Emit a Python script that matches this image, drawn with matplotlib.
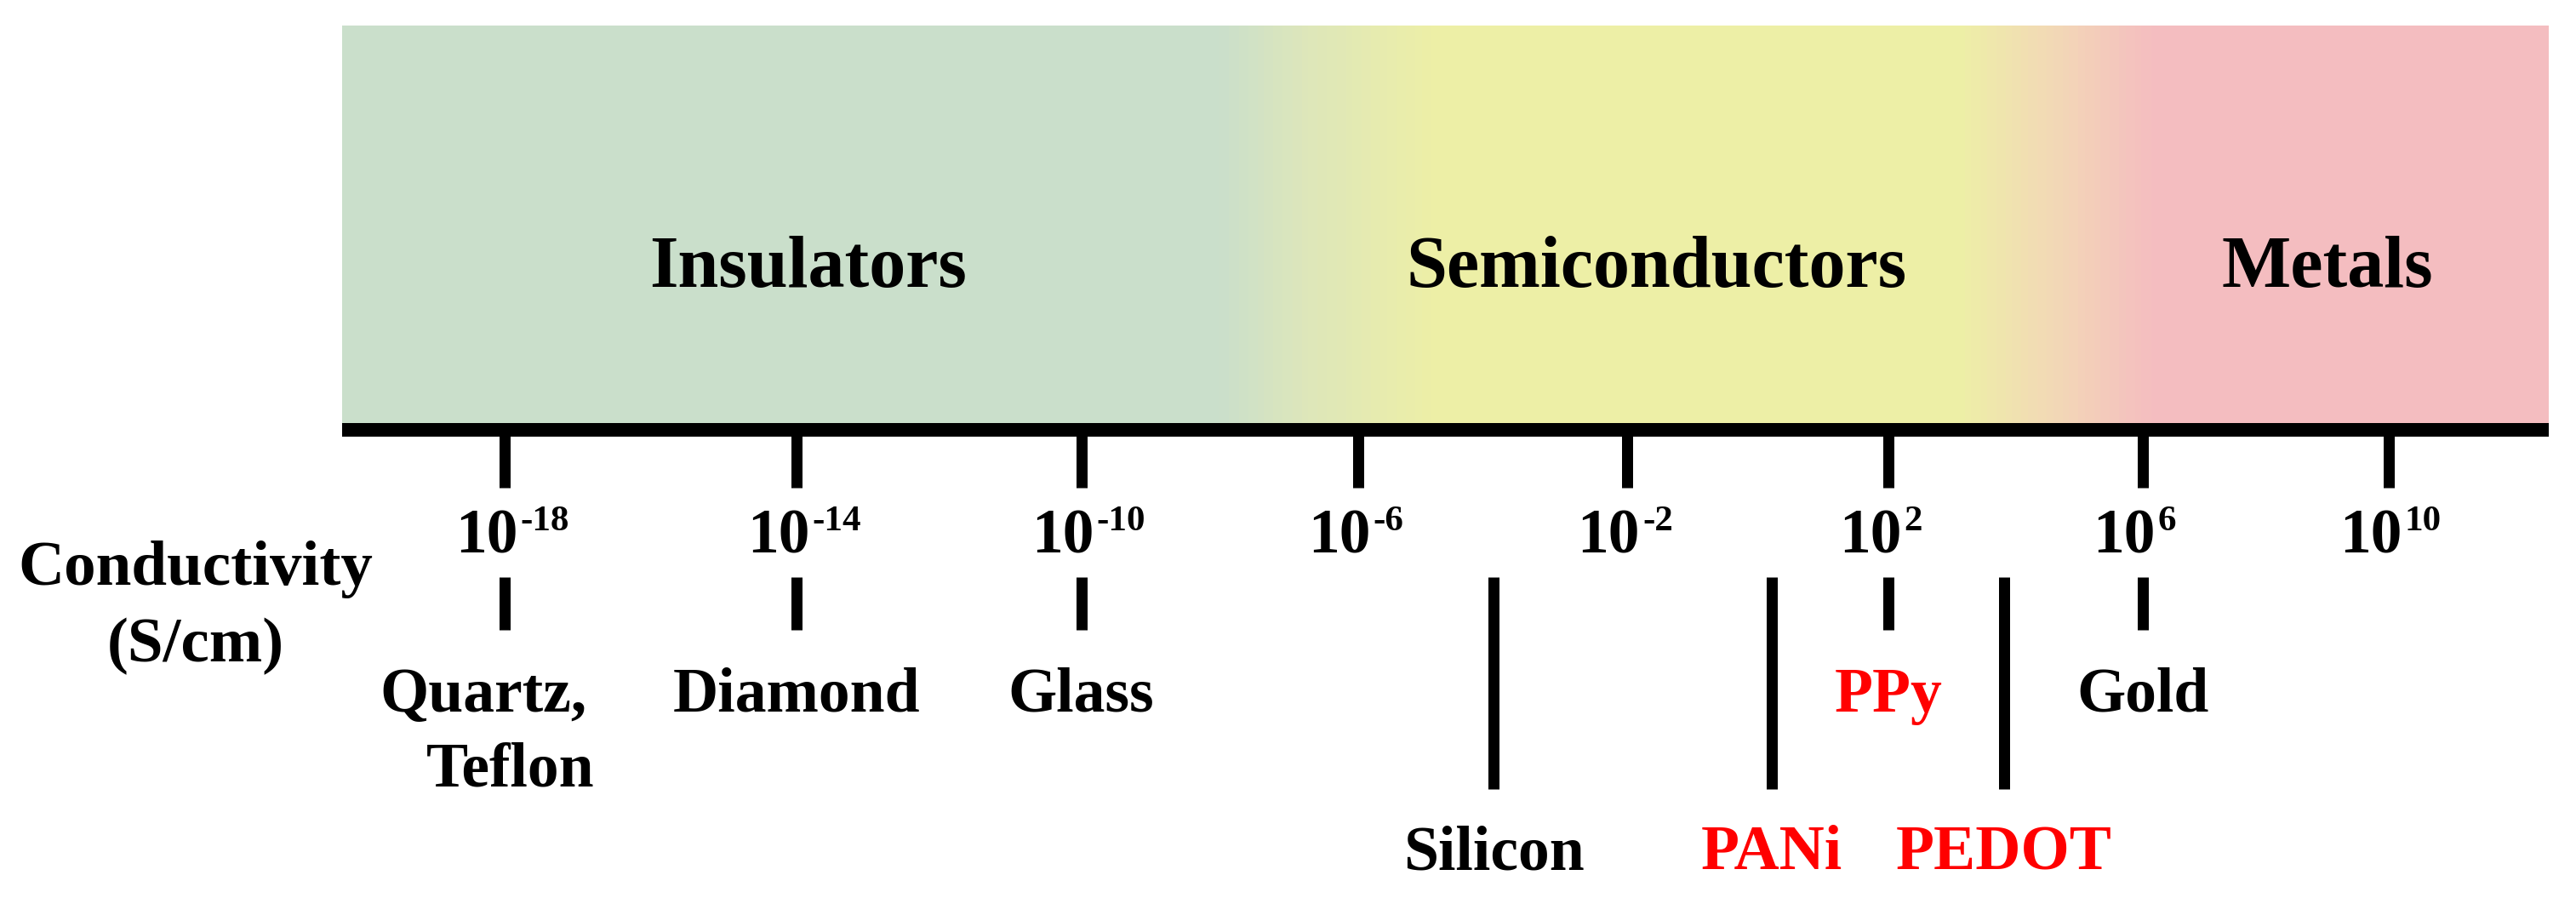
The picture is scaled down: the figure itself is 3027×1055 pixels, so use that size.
import numpy as np
import matplotlib.pyplot as plt
from matplotlib.colors import LinearSegmentedColormap

plt.rcParams['font.family'] = ['Liberation Serif', 'DejaVu Serif']
plt.rcParams['font.weight'] = 'bold'

# conductivity scale, log10 of S/cm
decades = [-18, -14, -10, -6, -2, 2, 6, 10]

materials = ['Quartz,\nTeflon', 'Diamond', 'Glass', 'Silicon', 'PANi', 'PPy', 'PEDOT', 'Gold']
log_sigma = [-18, -14, -10, -4, 0.2, 2, 3.8, 6]
polymers = ['PANi', 'PPy', 'PEDOT']

regions = ['Insulators', 'Semiconductors', 'Metals']

W, H = 3027, 1055

# the hand drawn scale gets slightly tighter towards the right
A, B, C = 1755.1, 79.07, 0.28


def fwd(e):
    u = np.asarray(e, dtype=float) + 4
    return B * u - C * u ** 2


def inv(y):
    y = np.asarray(y, dtype=float)
    return (B - np.sqrt(np.maximum(B ** 2 - 4 * C * y, 0))) / (2 * C) - 4


def at(x_px):
    # figure pixel column -> log10 value on this axis
    return float(inv(x_px - A))


fig = plt.figure(figsize=(W / 100, H / 100), dpi=100)
ax = fig.add_axes([0, 0, 1, 1])
ax.set_xscale('function', functions=(fwd, inv))
ax.set_xlim(at(0), at(W))
ax.set_ylim(H, 0)   # y in pixels from the top
ax.axis('off')

px = 72 / 100  # pixels -> points

# coloured band behind the scale
lo, hi = at(402), at(2995)
stops = [(402, '#cadfcb'), (1433, '#cadfcb'), (1533, '#dde6ba'), (1686, '#edefa6'),
         (2303, '#edefa6'), (2407, '#f2dab5'), (2533, '#f4bdc0'), (2995, '#f4bdc0')]
cmap = LinearSegmentedColormap.from_list(
    'band', [((at(p) - lo) / (hi - lo), c) for p, c in stops])
xe = inv(np.linspace(fwd(lo), fwd(hi), 700))
vals = ((xe[:-1] + xe[1:]) / 2)[None, :]
ax.pcolormesh(xe, [30, 497], vals, cmap=cmap, vmin=lo, vmax=hi,
              shading='flat', edgecolors='none', antialiased=False)

label_px = [950, 1946, 2735]
for name, p in zip(regions, label_px):
    ax.text(at(p), 337, name, ha='center', va='baseline', fontsize=62)

# axis bar and decade ticks
ax.hlines(505, lo, hi, color='black', lw=16 * px)
ax.vlines(decades, 512, 573, color='black', lw=13 * px)
for d in decades:
    ax.annotate('10', (d, 649), xytext=(15 * px, 0), textcoords='offset points',
                ha='right', va='baseline', fontsize=53)
    ax.annotate(str(d), (d, 623), xytext=(18 * px, 0), textcoords='offset points',
                ha='left', va='baseline', fontsize=31)

ax.text(at(230), 687, 'Conductivity', ha='center', va='baseline', fontsize=54)
ax.text(at(230), 777, '(S/cm)', ha='center', va='baseline', fontsize=54)

# material markers
for name, s in zip(materials, log_sigma):
    color = 'red' if name in polymers else 'black'
    if s in decades:
        ax.vlines(s, 678, 740, color='black', lw=13 * px)
        lines = name.split('\n')
        shift = -25 if len(lines) > 1 else 0
        ax.annotate(lines[0], (s, 836), xytext=(shift * px, 0), textcoords='offset points',
                    ha='center', va='baseline', fontsize=53, color=color)
        if len(lines) > 1:
            ax.annotate(lines[1], (s, 924), xytext=(6 * px, 0), textcoords='offset points',
                        ha='center', va='baseline', fontsize=53, color=color)
    else:
        ax.vlines(s, 678, 927, color='black', lw=13 * px)
        ax.text(s, 1021, name, ha='center', va='baseline', fontsize=53, color=color)

fig.savefig('out.png', dpi=100, facecolor='white')
